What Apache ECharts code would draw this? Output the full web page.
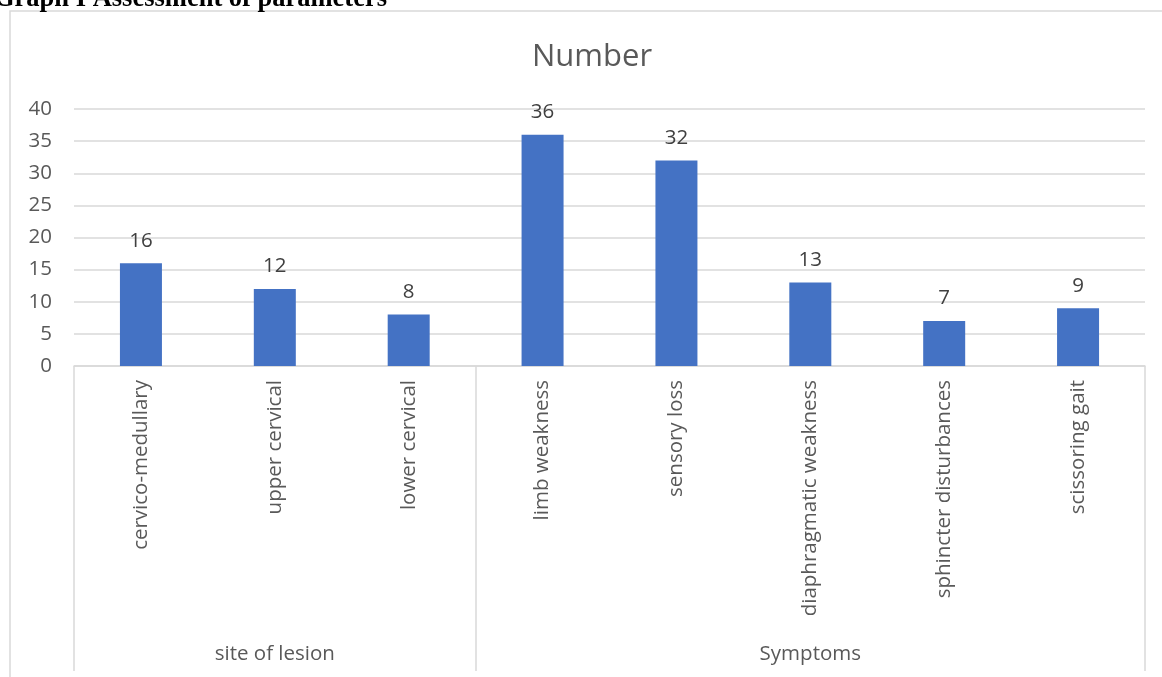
<!DOCTYPE html>
<html>
<head>
<meta charset="utf-8">
<script src="https://cdn.jsdelivr.net/npm/echarts@6/dist/echarts.min.js"></script>
<style>
  html, body { margin: 0; padding: 0; background: #fff; }
  #chart { width: 1162px; height: 677px; }
</style>
</head>
<body>
<div id="chart"></div>
<script>
// ---- data ----
const categories = ['cervico-medullary', 'upper cervical', 'lower cervical', 'limb weakness', 'sensory loss', 'diaphragmatic weakness', 'sphincter disturbances', 'scissoring gait'];
const values = [16, 12, 8, 36, 32, 13, 7, 9];
const groupNames = ['site of lesion', 'Symptoms'];
const groupSizes = [3, 5];
const yTicks = [0, 5, 10, 15, 20, 25, 30, 35, 40];
const chartTitle = 'Number';
const heading = 'Graph I Assessment of parameters';

// ---- derived helpers ----
const groupLabels = categories.map(() => '');
const boundaries = new Set();
let start = 0;
groupSizes.forEach((n, i) => {
  boundaries.add(start);
  groupLabels[start + Math.floor(n / 2)] = groupNames[i];
  start += n;
});

const FONT = '"Open Sans", "Noto Sans", sans-serif';
const TXT = '#595959';
const GRID = '#d9d9d9';

const chart = echarts.init(document.getElementById('chart'), null, { renderer: 'canvas' });
chart.setOption({
  animation: false,
  backgroundColor: '#fff',
  textStyle: { fontFamily: FONT },
  title: {
    text: chartTitle,
    left: 527,
    top: 37,
    textStyle: { fontFamily: FONT, fontSize: 31, fontWeight: 'normal', color: TXT }
  },
  graphic: [
    {
      type: 'rect',
      shape: { x: 10, y: 11, width: 1160, height: 700 },
      style: { fill: 'none', stroke: GRID, lineWidth: 1.5 },
      silent: true,
      z: -1
    },
    {
      type: 'text',
      x: -6,
      y: 13,
      style: {
        text: heading,
        font: 'bold 26.5px "Liberation Serif", "DejaVu Serif", serif',
        fill: '#000',
        verticalAlign: 'bottom'
      },
      silent: true
    }
  ],
  grid: { left: 74, right: 17, top: 109, bottom: 311, containLabel: false },
  xAxis: [
    {
      type: 'category',
      data: categories,
      boundaryGap: true,
      axisLine: { show: true, lineStyle: { color: GRID, width: 1.5 } },
      axisTick: {
        show: true,
        length: 305,
        interval: (idx) => boundaries.has(idx),
        lineStyle: { color: GRID, width: 1.5 }
      },
      axisLabel: {
        interval: 0,
        rotate: 90,
        margin: 14,
        fontSize: 20.5,
        color: TXT,
        fontFamily: FONT
      },
      splitLine: { show: false }
    },
    {
      type: 'category',
      data: groupLabels,
      position: 'bottom',
      offset: 270,
      boundaryGap: true,
      axisLine: { show: false },
      axisTick: { show: false },
      axisLabel: {
        interval: 0,
        margin: 8,
        fontSize: 20.5,
        color: TXT,
        fontFamily: FONT
      },
      splitLine: { show: false }
    }
  ],
  yAxis: {
    type: 'value',
    min: yTicks[0],
    max: yTicks[yTicks.length - 1],
    interval: yTicks[1] - yTicks[0],
    axisLine: { show: false },
    axisTick: { show: false },
    axisLabel: { fontSize: 20.5, color: TXT, margin: 22, fontFamily: FONT },
    splitLine: { lineStyle: { color: GRID, width: 1.5 } }
  },
  series: [
    {
      type: 'bar',
      data: values,
      xAxisIndex: 0,
      barWidth: 42,
      itemStyle: { color: '#4472C4' },
      label: {
        show: true,
        position: 'top',
        distance: 12,
        fontSize: 20.5,
        color: '#404040',
        fontFamily: FONT
      }
    }
  ]
});
</script>
</body>
</html>
